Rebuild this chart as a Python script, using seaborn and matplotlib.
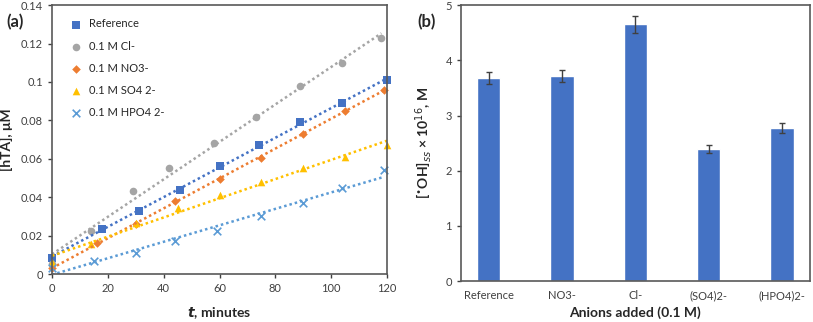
import numpy as np
import pandas as pd
import matplotlib
matplotlib.use("Agg")
import matplotlib.pyplot as plt
import seaborn as sns
from matplotlib.ticker import FuncFormatter

# panel (a): hTA formation over time
t_ref = [0, 18, 31, 46, 60, 74, 89, 104, 120]
y_ref = [0.0085, 0.0235, 0.033, 0.044, 0.056, 0.067, 0.079, 0.089, 0.101]
t_cl = [0, 14, 29, 42, 58, 73, 89, 104, 118]
y_cl = [0.005, 0.0225, 0.043, 0.055, 0.068, 0.082, 0.098, 0.110, 0.123]
t_no3 = [0, 16, 30, 44, 60, 75, 90, 105, 119]
y_no3 = [0.003, 0.016, 0.026, 0.038, 0.0495, 0.0605, 0.073, 0.085, 0.096]
t_so4 = [0, 14, 30, 45, 60, 75, 90, 105, 120]
y_so4 = [0.006, 0.0155, 0.0265, 0.0345, 0.041, 0.048, 0.055, 0.061, 0.067]
t_hpo4 = [0, 15, 30, 44, 59, 75, 90, 104, 119]
y_hpo4 = [0.003, 0.007, 0.011, 0.017, 0.0225, 0.030, 0.037, 0.045, 0.054]

# panel (b): steady-state OH
anions = ["Reference", "NO3-", "Cl-", "(SO4)2-", "(HPO4)2-"]
oh_ss = [3.68, 3.72, 4.65, 2.39, 2.77]
oh_err = [0.11, 0.11, 0.15, 0.07, 0.09]

sns.set_style("white")
plt.rcParams["font.family"] = ["Lato", "DejaVu Sans"]
plt.rcParams["mathtext.fontset"] = "dejavusans"

fig = plt.figure(figsize=(8.13, 3.22), dpi=100)
ax1 = fig.add_axes([0.064, 0.149, 0.412, 0.835])
ax2 = fig.add_axes([0.567, 0.127, 0.429, 0.857])

series = [
    ("Reference", t_ref, y_ref, "#4472C4", "s", 5),
    ("0.1 M Cl-", t_cl, y_cl, "#A5A5A5", "o", 5),
    ("0.1 M NO3-", t_no3, y_no3, "#ED7D31", "D", 4),
    ("0.1 M SO4 2-", t_so4, y_so4, "#FFC000", "^", 5),
    ("0.1 M HPO4 2-", t_hpo4, y_hpo4, "#5B9BD5", "x", 5),
]
for label, t, y, col, mk, ms in series:
    sns.regplot(x=np.array(t), y=np.array(y), ax=ax1, ci=None, truncate=True,
                marker=mk, color=col, label=label,
                scatter_kws={"s": ms ** 2 * 1.2, "clip_on": False, "alpha": 1,
                             "linewidths": 1.2 if mk == "x" else 0},
                line_kws={"linestyle": (0, (1, 1.2)), "linewidth": 1.8})

ax1.set_xlim(0, 120)
ax1.set_ylim(0, 0.14)
ax1.set_xticks(range(0, 121, 20))
ax1.set_yticks(np.arange(0, 0.141, 0.02))
ax1.yaxis.set_major_formatter(FuncFormatter(lambda v, p: f"{v:g}"))
ax1.set_xlabel("$\\mathbfit{t}$, minutes", fontsize=10, fontweight="bold", labelpad=8)
ax1.set_ylabel("[hTA], μM", fontsize=10, fontweight="bold", labelpad=6)
leg = ax1.legend(loc="upper left", frameon=False, fontsize=8, handletextpad=0.1,
                 labelspacing=1.0, borderaxespad=0.8, bbox_to_anchor=(0.0, 1.0))

sns.barplot(x=anions, y=oh_ss, ax=ax2, color="#4472C4", width=0.32, saturation=1)
ax2.errorbar(range(len(anions)), oh_ss, yerr=oh_err, fmt="none", ecolor="#404040",
             elinewidth=1, capsize=2.5, capthick=1)
ax2.set_ylim(0, 5)
ax2.set_yticks(range(0, 6))
ax2.set_xlabel("Anions added (0.1 M)", fontsize=10, fontweight="bold", labelpad=4)
ax2.set_ylabel("[$^{\\bullet}$OH]$_{ss}$ × 10$^{16}$, M", fontsize=10, fontweight="bold",
               labelpad=8)

for ax in (ax1, ax2):
    for sp in ax.spines.values():
        sp.set_visible(True)
        sp.set_color("#595959")
        sp.set_linewidth(1.2)
    ax.tick_params(axis="both", labelsize=8, colors="#404040", length=3, width=1,
                   direction="out")
ax1.tick_params(left=True, bottom=True)
ax2.tick_params(left=True, bottom=False)

fig.text(0.008, 0.915, "(a)", fontsize=12, fontweight="bold")
fig.text(0.513, 0.915, "(b)", fontsize=12, fontweight="bold")

fig.savefig("out.png", dpi=100)
